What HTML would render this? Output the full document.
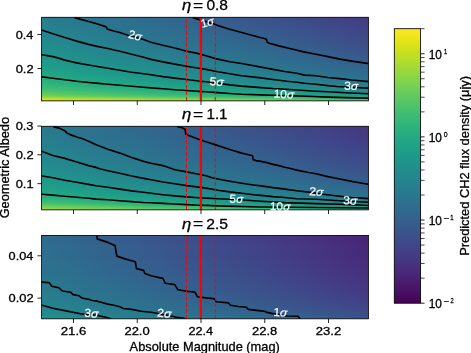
<!DOCTYPE html><html><head><meta charset="utf-8"><style>html,body{margin:0;padding:0;background:#fff;overflow:hidden}svg{display:block;will-change:transform}text{font-family:"Liberation Sans",sans-serif;stroke:#000;stroke-width:0.3px;} text[fill="#fff"]{stroke:#fff;stroke-width:0.2px}</style></head><body>
<svg width="471" height="353" viewBox="0 0 471 353">
<defs>
<linearGradient id="v" gradientUnits="userSpaceOnUse" x1="0" y1="0" x2="1315.25" y2="0"><stop offset="0.0000" stop-color="#fde725"/><stop offset="0.0156" stop-color="#f6e620"/><stop offset="0.0312" stop-color="#ece51b"/><stop offset="0.0469" stop-color="#e2e418"/><stop offset="0.0625" stop-color="#d8e219"/><stop offset="0.0781" stop-color="#cde11d"/><stop offset="0.0938" stop-color="#c2df23"/><stop offset="0.1094" stop-color="#b8de29"/><stop offset="0.1250" stop-color="#addc30"/><stop offset="0.1406" stop-color="#a2da37"/><stop offset="0.1562" stop-color="#98d83e"/><stop offset="0.1719" stop-color="#8ed645"/><stop offset="0.1875" stop-color="#84d44b"/><stop offset="0.2031" stop-color="#7ad151"/><stop offset="0.2188" stop-color="#70cf57"/><stop offset="0.2344" stop-color="#67cc5c"/><stop offset="0.2500" stop-color="#5ec962"/><stop offset="0.2656" stop-color="#56c667"/><stop offset="0.2812" stop-color="#4ec36b"/><stop offset="0.2969" stop-color="#46c06f"/><stop offset="0.3125" stop-color="#3fbc73"/><stop offset="0.3281" stop-color="#38b977"/><stop offset="0.3438" stop-color="#32b67a"/><stop offset="0.3594" stop-color="#2db27d"/><stop offset="0.3750" stop-color="#28ae80"/><stop offset="0.3906" stop-color="#25ab82"/><stop offset="0.4062" stop-color="#22a785"/><stop offset="0.4219" stop-color="#20a386"/><stop offset="0.4375" stop-color="#1fa088"/><stop offset="0.4531" stop-color="#1e9c89"/><stop offset="0.4688" stop-color="#1f988b"/><stop offset="0.4844" stop-color="#1f948c"/><stop offset="0.5000" stop-color="#21918c"/><stop offset="0.5156" stop-color="#228d8d"/><stop offset="0.5312" stop-color="#23898e"/><stop offset="0.5469" stop-color="#25858e"/><stop offset="0.5625" stop-color="#26828e"/><stop offset="0.5781" stop-color="#277e8e"/><stop offset="0.5938" stop-color="#297a8e"/><stop offset="0.6094" stop-color="#2a768e"/><stop offset="0.6250" stop-color="#2c728e"/><stop offset="0.6406" stop-color="#2e6f8e"/><stop offset="0.6562" stop-color="#2f6b8e"/><stop offset="0.6719" stop-color="#31678e"/><stop offset="0.6875" stop-color="#33638d"/><stop offset="0.7031" stop-color="#355f8d"/><stop offset="0.7188" stop-color="#375b8d"/><stop offset="0.7344" stop-color="#39568c"/><stop offset="0.7500" stop-color="#3b528b"/><stop offset="0.7656" stop-color="#3d4e8a"/><stop offset="0.7812" stop-color="#3e4989"/><stop offset="0.7969" stop-color="#404588"/><stop offset="0.8125" stop-color="#424086"/><stop offset="0.8281" stop-color="#443b84"/><stop offset="0.8438" stop-color="#453781"/><stop offset="0.8594" stop-color="#46327e"/><stop offset="0.8750" stop-color="#472d7b"/><stop offset="0.8906" stop-color="#482878"/><stop offset="0.9062" stop-color="#482374"/><stop offset="0.9219" stop-color="#481d6f"/><stop offset="0.9375" stop-color="#48186a"/><stop offset="0.9531" stop-color="#471365"/><stop offset="0.9688" stop-color="#470d60"/><stop offset="0.9844" stop-color="#46075a"/><stop offset="1.0000" stop-color="#440154"/></linearGradient>
<linearGradient id="cb" x1="0" y1="1" x2="0" y2="0"><stop offset="0.0000" stop-color="#440154"/><stop offset="0.0156" stop-color="#46075a"/><stop offset="0.0312" stop-color="#470d60"/><stop offset="0.0469" stop-color="#471365"/><stop offset="0.0625" stop-color="#48186a"/><stop offset="0.0781" stop-color="#481d6f"/><stop offset="0.0938" stop-color="#482374"/><stop offset="0.1094" stop-color="#482878"/><stop offset="0.1250" stop-color="#472d7b"/><stop offset="0.1406" stop-color="#46327e"/><stop offset="0.1562" stop-color="#453781"/><stop offset="0.1719" stop-color="#443b84"/><stop offset="0.1875" stop-color="#424086"/><stop offset="0.2031" stop-color="#404588"/><stop offset="0.2188" stop-color="#3e4989"/><stop offset="0.2344" stop-color="#3d4e8a"/><stop offset="0.2500" stop-color="#3b528b"/><stop offset="0.2656" stop-color="#39568c"/><stop offset="0.2812" stop-color="#375b8d"/><stop offset="0.2969" stop-color="#355f8d"/><stop offset="0.3125" stop-color="#33638d"/><stop offset="0.3281" stop-color="#31678e"/><stop offset="0.3438" stop-color="#2f6b8e"/><stop offset="0.3594" stop-color="#2e6f8e"/><stop offset="0.3750" stop-color="#2c728e"/><stop offset="0.3906" stop-color="#2a768e"/><stop offset="0.4062" stop-color="#297a8e"/><stop offset="0.4219" stop-color="#277e8e"/><stop offset="0.4375" stop-color="#26828e"/><stop offset="0.4531" stop-color="#25858e"/><stop offset="0.4688" stop-color="#23898e"/><stop offset="0.4844" stop-color="#228d8d"/><stop offset="0.5000" stop-color="#21918c"/><stop offset="0.5156" stop-color="#1f948c"/><stop offset="0.5312" stop-color="#1f988b"/><stop offset="0.5469" stop-color="#1e9c89"/><stop offset="0.5625" stop-color="#1fa088"/><stop offset="0.5781" stop-color="#20a386"/><stop offset="0.5938" stop-color="#22a785"/><stop offset="0.6094" stop-color="#25ab82"/><stop offset="0.6250" stop-color="#28ae80"/><stop offset="0.6406" stop-color="#2db27d"/><stop offset="0.6562" stop-color="#32b67a"/><stop offset="0.6719" stop-color="#38b977"/><stop offset="0.6875" stop-color="#3fbc73"/><stop offset="0.7031" stop-color="#46c06f"/><stop offset="0.7188" stop-color="#4ec36b"/><stop offset="0.7344" stop-color="#56c667"/><stop offset="0.7500" stop-color="#5ec962"/><stop offset="0.7656" stop-color="#67cc5c"/><stop offset="0.7812" stop-color="#70cf57"/><stop offset="0.7969" stop-color="#7ad151"/><stop offset="0.8125" stop-color="#84d44b"/><stop offset="0.8281" stop-color="#8ed645"/><stop offset="0.8438" stop-color="#98d83e"/><stop offset="0.8594" stop-color="#a2da37"/><stop offset="0.8750" stop-color="#addc30"/><stop offset="0.8906" stop-color="#b8de29"/><stop offset="0.9062" stop-color="#c2df23"/><stop offset="0.9219" stop-color="#cde11d"/><stop offset="0.9375" stop-color="#d8e219"/><stop offset="0.9531" stop-color="#e2e418"/><stop offset="0.9688" stop-color="#ece51b"/><stop offset="0.9844" stop-color="#f6e620"/><stop offset="1.0000" stop-color="#fde725"/></linearGradient>
<clipPath id="cp0"><rect x="41.60" y="17.30" width="326.80" height="83.55"/></clipPath>
<linearGradient id="g0" href="#v" gradientTransform="translate(-723.01 0)"/>
<linearGradient id="g1" href="#v" gradientTransform="translate(-720.13 0)"/>
<linearGradient id="g2" href="#v" gradientTransform="translate(-716.75 0)"/>
<linearGradient id="g3" href="#v" gradientTransform="translate(-713.24 0)"/>
<linearGradient id="g4" href="#v" gradientTransform="translate(-709.71 0)"/>
<linearGradient id="g5" href="#v" gradientTransform="translate(-706.24 0)"/>
<linearGradient id="g6" href="#v" gradientTransform="translate(-702.78 0)"/>
<linearGradient id="g7" href="#v" gradientTransform="translate(-699.83 0)"/>
<linearGradient id="g8" href="#v" gradientTransform="translate(-696.96 0)"/>
<linearGradient id="g9" href="#v" gradientTransform="translate(-693.81 0)"/>
<linearGradient id="g10" href="#v" gradientTransform="translate(-691.46 0)"/>
<linearGradient id="g11" href="#v" gradientTransform="translate(-689.59 0)"/>
<linearGradient id="g12" href="#v" gradientTransform="translate(-687.06 0)"/>
<linearGradient id="g13" href="#v" gradientTransform="translate(-683.55 0)"/>
<linearGradient id="g14" href="#v" gradientTransform="translate(-680.09 0)"/>
<linearGradient id="g15" href="#v" gradientTransform="translate(-676.56 0)"/>
<linearGradient id="g16" href="#v" gradientTransform="translate(-673.31 0)"/>
<linearGradient id="g17" href="#v" gradientTransform="translate(-670.05 0)"/>
<linearGradient id="g18" href="#v" gradientTransform="translate(-666.71 0)"/>
<linearGradient id="g19" href="#v" gradientTransform="translate(-663.19 0)"/>
<linearGradient id="g20" href="#v" gradientTransform="translate(-659.67 0)"/>
<linearGradient id="g21" href="#v" gradientTransform="translate(-655.85 0)"/>
<linearGradient id="g22" href="#v" gradientTransform="translate(-652.98 0)"/>
<linearGradient id="g23" href="#v" gradientTransform="translate(-650.91 0)"/>
<linearGradient id="g24" href="#v" gradientTransform="translate(-648.80 0)"/>
<linearGradient id="g25" href="#v" gradientTransform="translate(-646.41 0)"/>
<linearGradient id="g26" href="#v" gradientTransform="translate(-643.08 0)"/>
<linearGradient id="g27" href="#v" gradientTransform="translate(-639.30 0)"/>
<linearGradient id="g28" href="#v" gradientTransform="translate(-635.27 0)"/>
<linearGradient id="g29" href="#v" gradientTransform="translate(-630.96 0)"/>
<linearGradient id="g30" href="#v" gradientTransform="translate(-626.47 0)"/>
<linearGradient id="g31" href="#v" gradientTransform="translate(-622.09 0)"/>
<linearGradient id="g32" href="#v" gradientTransform="translate(-617.98 0)"/>
<linearGradient id="g33" href="#v" gradientTransform="translate(-613.86 0)"/>
<linearGradient id="g34" href="#v" gradientTransform="translate(-609.65 0)"/>
<linearGradient id="g35" href="#v" gradientTransform="translate(-605.00 0)"/>
<linearGradient id="g36" href="#v" gradientTransform="translate(-600.32 0)"/>
<linearGradient id="g37" href="#v" gradientTransform="translate(-596.64 0)"/>
<linearGradient id="g38" href="#v" gradientTransform="translate(-591.94 0)"/>
<linearGradient id="g39" href="#v" gradientTransform="translate(-587.39 0)"/>
<linearGradient id="g40" href="#v" gradientTransform="translate(-583.45 0)"/>
<linearGradient id="g41" href="#v" gradientTransform="translate(-579.75 0)"/>
<linearGradient id="g42" href="#v" gradientTransform="translate(-575.64 0)"/>
<linearGradient id="g43" href="#v" gradientTransform="translate(-570.90 0)"/>
<linearGradient id="g44" href="#v" gradientTransform="translate(-565.92 0)"/>
<linearGradient id="g45" href="#v" gradientTransform="translate(-560.30 0)"/>
<linearGradient id="g46" href="#v" gradientTransform="translate(-554.31 0)"/>
<linearGradient id="g47" href="#v" gradientTransform="translate(-550.67 0)"/>
<linearGradient id="g48" href="#v" gradientTransform="translate(-545.02 0)"/>
<linearGradient id="g49" href="#v" gradientTransform="translate(-539.29 0)"/>
<linearGradient id="g50" href="#v" gradientTransform="translate(-533.56 0)"/>
<linearGradient id="g51" href="#v" gradientTransform="translate(-527.87 0)"/>
<linearGradient id="g52" href="#v" gradientTransform="translate(-522.23 0)"/>
<linearGradient id="g53" href="#v" gradientTransform="translate(-516.76 0)"/>
<linearGradient id="g54" href="#v" gradientTransform="translate(-511.13 0)"/>
<linearGradient id="g55" href="#v" gradientTransform="translate(-504.83 0)"/>
<linearGradient id="g56" href="#v" gradientTransform="translate(-498.32 0)"/>
<linearGradient id="g57" href="#v" gradientTransform="translate(-492.33 0)"/>
<linearGradient id="g58" href="#v" gradientTransform="translate(-484.91 0)"/>
<linearGradient id="g59" href="#v" gradientTransform="translate(-476.68 0)"/>
<linearGradient id="g60" href="#v" gradientTransform="translate(-469.52 0)"/>
<linearGradient id="g61" href="#v" gradientTransform="translate(-460.86 0)"/>
<linearGradient id="g62" href="#v" gradientTransform="translate(-452.70 0)"/>
<linearGradient id="g63" href="#v" gradientTransform="translate(-444.33 0)"/>
<linearGradient id="g64" href="#v" gradientTransform="translate(-435.10 0)"/>
<linearGradient id="g65" href="#v" gradientTransform="translate(-428.19 0)"/>
<linearGradient id="g66" href="#v" gradientTransform="translate(-419.06 0)"/>
<linearGradient id="g67" href="#v" gradientTransform="translate(-409.49 0)"/>
<linearGradient id="g68" href="#v" gradientTransform="translate(-399.47 0)"/>
<linearGradient id="g69" href="#v" gradientTransform="translate(-388.56 0)"/>
<linearGradient id="g70" href="#v" gradientTransform="translate(-374.43 0)"/>
<linearGradient id="g71" href="#v" gradientTransform="translate(-362.43 0)"/>
<linearGradient id="g72" href="#v" gradientTransform="translate(-347.27 0)"/>
<linearGradient id="g73" href="#v" gradientTransform="translate(-332.70 0)"/>
<linearGradient id="g74" href="#v" gradientTransform="translate(-317.12 0)"/>
<linearGradient id="g75" href="#v" gradientTransform="translate(-299.30 0)"/>
<linearGradient id="g76" href="#v" gradientTransform="translate(-281.96 0)"/>
<linearGradient id="g77" href="#v" gradientTransform="translate(-268.41 0)"/>
<linearGradient id="g78" href="#v" gradientTransform="translate(-238.38 0)"/>
<linearGradient id="g79" href="#v" gradientTransform="translate(-208.30 0)"/>
<linearGradient id="g80" href="#v" gradientTransform="translate(-155.69 0)"/>
<linearGradient id="g81" href="#v" gradientTransform="translate(-89.93 0)"/>
<linearGradient id="g82" href="#v" gradientTransform="translate(-43.89 0)"/>
<linearGradient id="g83" href="#v" gradientTransform="translate(-11.01 0)"/>
<clipPath id="cp1"><rect x="41.60" y="126.30" width="326.80" height="83.55"/></clipPath>
<linearGradient id="g84" href="#v" gradientTransform="translate(-741.16 0)"/>
<linearGradient id="g85" href="#v" gradientTransform="translate(-738.02 0)"/>
<linearGradient id="g86" href="#v" gradientTransform="translate(-735.23 0)"/>
<linearGradient id="g87" href="#v" gradientTransform="translate(-733.35 0)"/>
<linearGradient id="g88" href="#v" gradientTransform="translate(-732.09 0)"/>
<linearGradient id="g89" href="#v" gradientTransform="translate(-731.40 0)"/>
<linearGradient id="g90" href="#v" gradientTransform="translate(-730.90 0)"/>
<linearGradient id="g91" href="#v" gradientTransform="translate(-730.02 0)"/>
<linearGradient id="g92" href="#v" gradientTransform="translate(-728.54 0)"/>
<linearGradient id="g93" href="#v" gradientTransform="translate(-726.25 0)"/>
<linearGradient id="g94" href="#v" gradientTransform="translate(-723.51 0)"/>
<linearGradient id="g95" href="#v" gradientTransform="translate(-720.64 0)"/>
<linearGradient id="g96" href="#v" gradientTransform="translate(-717.63 0)"/>
<linearGradient id="g97" href="#v" gradientTransform="translate(-714.91 0)"/>
<linearGradient id="g98" href="#v" gradientTransform="translate(-712.26 0)"/>
<linearGradient id="g99" href="#v" gradientTransform="translate(-709.66 0)"/>
<linearGradient id="g100" href="#v" gradientTransform="translate(-707.04 0)"/>
<linearGradient id="g101" href="#v" gradientTransform="translate(-704.35 0)"/>
<linearGradient id="g102" href="#v" gradientTransform="translate(-701.83 0)"/>
<linearGradient id="g103" href="#v" gradientTransform="translate(-699.10 0)"/>
<linearGradient id="g104" href="#v" gradientTransform="translate(-696.22 0)"/>
<linearGradient id="g105" href="#v" gradientTransform="translate(-693.35 0)"/>
<linearGradient id="g106" href="#v" gradientTransform="translate(-690.47 0)"/>
<linearGradient id="g107" href="#v" gradientTransform="translate(-687.54 0)"/>
<linearGradient id="g108" href="#v" gradientTransform="translate(-684.36 0)"/>
<linearGradient id="g109" href="#v" gradientTransform="translate(-682.29 0)"/>
<linearGradient id="g110" href="#v" gradientTransform="translate(-679.28 0)"/>
<linearGradient id="g111" href="#v" gradientTransform="translate(-676.20 0)"/>
<linearGradient id="g112" href="#v" gradientTransform="translate(-673.00 0)"/>
<linearGradient id="g113" href="#v" gradientTransform="translate(-669.80 0)"/>
<linearGradient id="g114" href="#v" gradientTransform="translate(-667.25 0)"/>
<linearGradient id="g115" href="#v" gradientTransform="translate(-664.92 0)"/>
<linearGradient id="g116" href="#v" gradientTransform="translate(-662.50 0)"/>
<linearGradient id="g117" href="#v" gradientTransform="translate(-660.33 0)"/>
<linearGradient id="g118" href="#v" gradientTransform="translate(-657.36 0)"/>
<linearGradient id="g119" href="#v" gradientTransform="translate(-653.28 0)"/>
<linearGradient id="g120" href="#v" gradientTransform="translate(-649.14 0)"/>
<linearGradient id="g121" href="#v" gradientTransform="translate(-645.44 0)"/>
<linearGradient id="g122" href="#v" gradientTransform="translate(-641.53 0)"/>
<linearGradient id="g123" href="#v" gradientTransform="translate(-637.11 0)"/>
<linearGradient id="g124" href="#v" gradientTransform="translate(-633.43 0)"/>
<linearGradient id="g125" href="#v" gradientTransform="translate(-629.79 0)"/>
<linearGradient id="g126" href="#v" gradientTransform="translate(-626.42 0)"/>
<linearGradient id="g127" href="#v" gradientTransform="translate(-622.93 0)"/>
<linearGradient id="g128" href="#v" gradientTransform="translate(-618.51 0)"/>
<linearGradient id="g129" href="#v" gradientTransform="translate(-613.56 0)"/>
<linearGradient id="g130" href="#v" gradientTransform="translate(-608.66 0)"/>
<linearGradient id="g131" href="#v" gradientTransform="translate(-603.44 0)"/>
<linearGradient id="g132" href="#v" gradientTransform="translate(-598.79 0)"/>
<linearGradient id="g133" href="#v" gradientTransform="translate(-594.19 0)"/>
<linearGradient id="g134" href="#v" gradientTransform="translate(-590.90 0)"/>
<linearGradient id="g135" href="#v" gradientTransform="translate(-586.24 0)"/>
<linearGradient id="g136" href="#v" gradientTransform="translate(-581.37 0)"/>
<linearGradient id="g137" href="#v" gradientTransform="translate(-576.27 0)"/>
<linearGradient id="g138" href="#v" gradientTransform="translate(-571.05 0)"/>
<linearGradient id="g139" href="#v" gradientTransform="translate(-565.63 0)"/>
<linearGradient id="g140" href="#v" gradientTransform="translate(-559.80 0)"/>
<linearGradient id="g141" href="#v" gradientTransform="translate(-553.78 0)"/>
<linearGradient id="g142" href="#v" gradientTransform="translate(-547.58 0)"/>
<linearGradient id="g143" href="#v" gradientTransform="translate(-541.10 0)"/>
<linearGradient id="g144" href="#v" gradientTransform="translate(-533.64 0)"/>
<linearGradient id="g145" href="#v" gradientTransform="translate(-526.31 0)"/>
<linearGradient id="g146" href="#v" gradientTransform="translate(-519.29 0)"/>
<linearGradient id="g147" href="#v" gradientTransform="translate(-512.71 0)"/>
<linearGradient id="g148" href="#v" gradientTransform="translate(-506.08 0)"/>
<linearGradient id="g149" href="#v" gradientTransform="translate(-498.26 0)"/>
<linearGradient id="g150" href="#v" gradientTransform="translate(-490.23 0)"/>
<linearGradient id="g151" href="#v" gradientTransform="translate(-482.66 0)"/>
<linearGradient id="g152" href="#v" gradientTransform="translate(-474.39 0)"/>
<linearGradient id="g153" href="#v" gradientTransform="translate(-464.37 0)"/>
<linearGradient id="g154" href="#v" gradientTransform="translate(-454.30 0)"/>
<linearGradient id="g155" href="#v" gradientTransform="translate(-442.30 0)"/>
<linearGradient id="g156" href="#v" gradientTransform="translate(-428.66 0)"/>
<linearGradient id="g157" href="#v" gradientTransform="translate(-409.10 0)"/>
<linearGradient id="g158" href="#v" gradientTransform="translate(-393.23 0)"/>
<linearGradient id="g159" href="#v" gradientTransform="translate(-377.50 0)"/>
<linearGradient id="g160" href="#v" gradientTransform="translate(-365.00 0)"/>
<linearGradient id="g161" href="#v" gradientTransform="translate(-339.47 0)"/>
<linearGradient id="g162" href="#v" gradientTransform="translate(-313.78 0)"/>
<linearGradient id="g163" href="#v" gradientTransform="translate(-289.41 0)"/>
<linearGradient id="g164" href="#v" gradientTransform="translate(-241.18 0)"/>
<linearGradient id="g165" href="#v" gradientTransform="translate(-214.87 0)"/>
<linearGradient id="g166" href="#v" gradientTransform="translate(-181.99 0)"/>
<linearGradient id="g167" href="#v" gradientTransform="translate(-155.69 0)"/>
<clipPath id="cp2"><rect x="41.60" y="235.50" width="326.80" height="83.30"/></clipPath>
<linearGradient id="g168" href="#v" gradientTransform="translate(-820.44 0)"/>
<linearGradient id="g169" href="#v" gradientTransform="translate(-819.78 0)"/>
<linearGradient id="g170" href="#v" gradientTransform="translate(-819.71 0)"/>
<linearGradient id="g171" href="#v" gradientTransform="translate(-819.64 0)"/>
<linearGradient id="g172" href="#v" gradientTransform="translate(-817.78 0)"/>
<linearGradient id="g173" href="#v" gradientTransform="translate(-814.73 0)"/>
<linearGradient id="g174" href="#v" gradientTransform="translate(-811.67 0)"/>
<linearGradient id="g175" href="#v" gradientTransform="translate(-808.68 0)"/>
<linearGradient id="g176" href="#v" gradientTransform="translate(-806.31 0)"/>
<linearGradient id="g177" href="#v" gradientTransform="translate(-803.95 0)"/>
<linearGradient id="g178" href="#v" gradientTransform="translate(-801.80 0)"/>
<linearGradient id="g179" href="#v" gradientTransform="translate(-801.63 0)"/>
<linearGradient id="g180" href="#v" gradientTransform="translate(-801.46 0)"/>
<linearGradient id="g181" href="#v" gradientTransform="translate(-801.30 0)"/>
<linearGradient id="g182" href="#v" gradientTransform="translate(-801.13 0)"/>
<linearGradient id="g183" href="#v" gradientTransform="translate(-800.96 0)"/>
<linearGradient id="g184" href="#v" gradientTransform="translate(-800.79 0)"/>
<linearGradient id="g185" href="#v" gradientTransform="translate(-800.62 0)"/>
<linearGradient id="g186" href="#v" gradientTransform="translate(-800.45 0)"/>
<linearGradient id="g187" href="#v" gradientTransform="translate(-800.29 0)"/>
<linearGradient id="g188" href="#v" gradientTransform="translate(-800.12 0)"/>
<linearGradient id="g189" href="#v" gradientTransform="translate(-798.82 0)"/>
<linearGradient id="g190" href="#v" gradientTransform="translate(-795.82 0)"/>
<linearGradient id="g191" href="#v" gradientTransform="translate(-792.82 0)"/>
<linearGradient id="g192" href="#v" gradientTransform="translate(-789.56 0)"/>
<linearGradient id="g193" href="#v" gradientTransform="translate(-785.90 0)"/>
<linearGradient id="g194" href="#v" gradientTransform="translate(-782.25 0)"/>
<linearGradient id="g195" href="#v" gradientTransform="translate(-781.38 0)"/>
<linearGradient id="g196" href="#v" gradientTransform="translate(-781.20 0)"/>
<linearGradient id="g197" href="#v" gradientTransform="translate(-781.03 0)"/>
<linearGradient id="g198" href="#v" gradientTransform="translate(-780.86 0)"/>
<linearGradient id="g199" href="#v" gradientTransform="translate(-780.68 0)"/>
<linearGradient id="g200" href="#v" gradientTransform="translate(-780.51 0)"/>
<linearGradient id="g201" href="#v" gradientTransform="translate(-780.33 0)"/>
<linearGradient id="g202" href="#v" gradientTransform="translate(-776.77 0)"/>
<linearGradient id="g203" href="#v" gradientTransform="translate(-773.18 0)"/>
<linearGradient id="g204" href="#v" gradientTransform="translate(-772.78 0)"/>
<linearGradient id="g205" href="#v" gradientTransform="translate(-772.38 0)"/>
<linearGradient id="g206" href="#v" gradientTransform="translate(-771.76 0)"/>
<linearGradient id="g207" href="#v" gradientTransform="translate(-769.17 0)"/>
<linearGradient id="g208" href="#v" gradientTransform="translate(-766.59 0)"/>
<linearGradient id="g209" href="#v" gradientTransform="translate(-762.61 0)"/>
<linearGradient id="g210" href="#v" gradientTransform="translate(-758.04 0)"/>
<linearGradient id="g211" href="#v" gradientTransform="translate(-753.87 0)"/>
<linearGradient id="g212" href="#v" gradientTransform="translate(-753.38 0)"/>
<linearGradient id="g213" href="#v" gradientTransform="translate(-752.89 0)"/>
<linearGradient id="g214" href="#v" gradientTransform="translate(-752.40 0)"/>
<linearGradient id="g215" href="#v" gradientTransform="translate(-750.93 0)"/>
<linearGradient id="g216" href="#v" gradientTransform="translate(-748.54 0)"/>
<linearGradient id="g217" href="#v" gradientTransform="translate(-744.54 0)"/>
<linearGradient id="g218" href="#v" gradientTransform="translate(-743.57 0)"/>
<linearGradient id="g219" href="#v" gradientTransform="translate(-742.36 0)"/>
<linearGradient id="g220" href="#v" gradientTransform="translate(-739.82 0)"/>
<linearGradient id="g221" href="#v" gradientTransform="translate(-738.47 0)"/>
<linearGradient id="g222" href="#v" gradientTransform="translate(-737.62 0)"/>
<linearGradient id="g223" href="#v" gradientTransform="translate(-734.79 0)"/>
<linearGradient id="g224" href="#v" gradientTransform="translate(-729.51 0)"/>
<linearGradient id="g225" href="#v" gradientTransform="translate(-723.70 0)"/>
<linearGradient id="g226" href="#v" gradientTransform="translate(-722.97 0)"/>
<linearGradient id="g227" href="#v" gradientTransform="translate(-722.23 0)"/>
<linearGradient id="g228" href="#v" gradientTransform="translate(-719.68 0)"/>
<linearGradient id="g229" href="#v" gradientTransform="translate(-718.22 0)"/>
<linearGradient id="g230" href="#v" gradientTransform="translate(-714.75 0)"/>
<linearGradient id="g231" href="#v" gradientTransform="translate(-708.60 0)"/>
<linearGradient id="g232" href="#v" gradientTransform="translate(-704.86 0)"/>
<linearGradient id="g233" href="#v" gradientTransform="translate(-703.06 0)"/>
<linearGradient id="g234" href="#v" gradientTransform="translate(-699.73 0)"/>
<linearGradient id="g235" href="#v" gradientTransform="translate(-693.63 0)"/>
<linearGradient id="g236" href="#v" gradientTransform="translate(-689.48 0)"/>
<linearGradient id="g237" href="#v" gradientTransform="translate(-687.00 0)"/>
<linearGradient id="g238" href="#v" gradientTransform="translate(-683.71 0)"/>
<linearGradient id="g239" href="#v" gradientTransform="translate(-679.07 0)"/>
<linearGradient id="g240" href="#v" gradientTransform="translate(-674.13 0)"/>
<linearGradient id="g241" href="#v" gradientTransform="translate(-671.85 0)"/>
<linearGradient id="g242" href="#v" gradientTransform="translate(-666.64 0)"/>
<linearGradient id="g243" href="#v" gradientTransform="translate(-660.33 0)"/>
<linearGradient id="g244" href="#v" gradientTransform="translate(-654.02 0)"/>
<linearGradient id="g245" href="#v" gradientTransform="translate(-648.84 0)"/>
<linearGradient id="g246" href="#v" gradientTransform="translate(-643.57 0)"/>
<linearGradient id="g247" href="#v" gradientTransform="translate(-638.37 0)"/>
<linearGradient id="g248" href="#v" gradientTransform="translate(-630.17 0)"/>
<linearGradient id="g249" href="#v" gradientTransform="translate(-622.21 0)"/>
<linearGradient id="g250" href="#v" gradientTransform="translate(-619.18 0)"/>
<linearGradient id="g251" href="#v" gradientTransform="translate(-615.63 0)"/>
</defs>
<g clip-path="url(#cp0)">
<rect x="41.6" y="17.0" width="326.8" height="1.05" fill="url(#g0)"/>
<rect x="41.6" y="18.0" width="326.8" height="1.05" fill="url(#g1)"/>
<rect x="41.6" y="19.0" width="326.8" height="1.05" fill="url(#g2)"/>
<rect x="41.6" y="20.0" width="326.8" height="1.05" fill="url(#g3)"/>
<rect x="41.6" y="21.0" width="326.8" height="1.05" fill="url(#g4)"/>
<rect x="41.6" y="22.0" width="326.8" height="1.05" fill="url(#g5)"/>
<rect x="41.6" y="23.0" width="326.8" height="1.05" fill="url(#g6)"/>
<rect x="41.6" y="24.0" width="326.8" height="1.05" fill="url(#g7)"/>
<rect x="41.6" y="25.0" width="326.8" height="1.05" fill="url(#g8)"/>
<rect x="41.6" y="26.0" width="326.8" height="1.05" fill="url(#g9)"/>
<rect x="41.6" y="27.0" width="326.8" height="1.05" fill="url(#g10)"/>
<rect x="41.6" y="28.0" width="326.8" height="1.05" fill="url(#g11)"/>
<rect x="41.6" y="29.0" width="326.8" height="1.05" fill="url(#g12)"/>
<rect x="41.6" y="30.0" width="326.8" height="1.05" fill="url(#g13)"/>
<rect x="41.6" y="31.0" width="326.8" height="1.05" fill="url(#g14)"/>
<rect x="41.6" y="32.0" width="326.8" height="1.05" fill="url(#g15)"/>
<rect x="41.6" y="33.0" width="326.8" height="1.05" fill="url(#g16)"/>
<rect x="41.6" y="34.0" width="326.8" height="1.05" fill="url(#g17)"/>
<rect x="41.6" y="35.0" width="326.8" height="1.05" fill="url(#g18)"/>
<rect x="41.6" y="36.0" width="326.8" height="1.05" fill="url(#g19)"/>
<rect x="41.6" y="37.0" width="326.8" height="1.05" fill="url(#g20)"/>
<rect x="41.6" y="38.0" width="326.8" height="1.05" fill="url(#g21)"/>
<rect x="41.6" y="39.0" width="326.8" height="1.05" fill="url(#g22)"/>
<rect x="41.6" y="40.0" width="326.8" height="1.05" fill="url(#g23)"/>
<rect x="41.6" y="41.0" width="326.8" height="1.05" fill="url(#g24)"/>
<rect x="41.6" y="42.0" width="326.8" height="1.05" fill="url(#g25)"/>
<rect x="41.6" y="43.0" width="326.8" height="1.05" fill="url(#g26)"/>
<rect x="41.6" y="44.0" width="326.8" height="1.05" fill="url(#g27)"/>
<rect x="41.6" y="45.0" width="326.8" height="1.05" fill="url(#g28)"/>
<rect x="41.6" y="46.0" width="326.8" height="1.05" fill="url(#g29)"/>
<rect x="41.6" y="47.0" width="326.8" height="1.05" fill="url(#g30)"/>
<rect x="41.6" y="48.0" width="326.8" height="1.05" fill="url(#g31)"/>
<rect x="41.6" y="49.0" width="326.8" height="1.05" fill="url(#g32)"/>
<rect x="41.6" y="50.0" width="326.8" height="1.05" fill="url(#g33)"/>
<rect x="41.6" y="51.0" width="326.8" height="1.05" fill="url(#g34)"/>
<rect x="41.6" y="52.0" width="326.8" height="1.05" fill="url(#g35)"/>
<rect x="41.6" y="53.0" width="326.8" height="1.05" fill="url(#g36)"/>
<rect x="41.6" y="54.0" width="326.8" height="1.05" fill="url(#g37)"/>
<rect x="41.6" y="55.0" width="326.8" height="1.05" fill="url(#g38)"/>
<rect x="41.6" y="56.0" width="326.8" height="1.05" fill="url(#g39)"/>
<rect x="41.6" y="57.0" width="326.8" height="1.05" fill="url(#g40)"/>
<rect x="41.6" y="58.0" width="326.8" height="1.05" fill="url(#g41)"/>
<rect x="41.6" y="59.0" width="326.8" height="1.05" fill="url(#g42)"/>
<rect x="41.6" y="60.0" width="326.8" height="1.05" fill="url(#g43)"/>
<rect x="41.6" y="61.0" width="326.8" height="1.05" fill="url(#g44)"/>
<rect x="41.6" y="62.0" width="326.8" height="1.05" fill="url(#g45)"/>
<rect x="41.6" y="63.0" width="326.8" height="1.05" fill="url(#g46)"/>
<rect x="41.6" y="64.0" width="326.8" height="1.05" fill="url(#g47)"/>
<rect x="41.6" y="65.0" width="326.8" height="1.05" fill="url(#g48)"/>
<rect x="41.6" y="66.0" width="326.8" height="1.05" fill="url(#g49)"/>
<rect x="41.6" y="67.0" width="326.8" height="1.05" fill="url(#g50)"/>
<rect x="41.6" y="68.0" width="326.8" height="1.05" fill="url(#g51)"/>
<rect x="41.6" y="69.0" width="326.8" height="1.05" fill="url(#g52)"/>
<rect x="41.6" y="70.0" width="326.8" height="1.05" fill="url(#g53)"/>
<rect x="41.6" y="71.0" width="326.8" height="1.05" fill="url(#g54)"/>
<rect x="41.6" y="72.0" width="326.8" height="1.05" fill="url(#g55)"/>
<rect x="41.6" y="73.0" width="326.8" height="1.05" fill="url(#g56)"/>
<rect x="41.6" y="74.0" width="326.8" height="1.05" fill="url(#g57)"/>
<rect x="41.6" y="75.0" width="326.8" height="1.05" fill="url(#g58)"/>
<rect x="41.6" y="76.0" width="326.8" height="1.05" fill="url(#g59)"/>
<rect x="41.6" y="77.0" width="326.8" height="1.05" fill="url(#g60)"/>
<rect x="41.6" y="78.0" width="326.8" height="1.05" fill="url(#g61)"/>
<rect x="41.6" y="79.0" width="326.8" height="1.05" fill="url(#g62)"/>
<rect x="41.6" y="80.0" width="326.8" height="1.05" fill="url(#g63)"/>
<rect x="41.6" y="81.0" width="326.8" height="1.05" fill="url(#g64)"/>
<rect x="41.6" y="82.0" width="326.8" height="1.05" fill="url(#g65)"/>
<rect x="41.6" y="83.0" width="326.8" height="1.05" fill="url(#g66)"/>
<rect x="41.6" y="84.0" width="326.8" height="1.05" fill="url(#g67)"/>
<rect x="41.6" y="85.0" width="326.8" height="1.05" fill="url(#g68)"/>
<rect x="41.6" y="86.0" width="326.8" height="1.05" fill="url(#g69)"/>
<rect x="41.6" y="87.0" width="326.8" height="1.05" fill="url(#g70)"/>
<rect x="41.6" y="88.0" width="326.8" height="1.05" fill="url(#g71)"/>
<rect x="41.6" y="89.0" width="326.8" height="1.05" fill="url(#g72)"/>
<rect x="41.6" y="90.0" width="326.8" height="1.05" fill="url(#g73)"/>
<rect x="41.6" y="91.0" width="326.8" height="1.05" fill="url(#g74)"/>
<rect x="41.6" y="92.0" width="326.8" height="1.05" fill="url(#g75)"/>
<rect x="41.6" y="93.0" width="326.8" height="1.05" fill="url(#g76)"/>
<rect x="41.6" y="94.0" width="326.8" height="1.05" fill="url(#g77)"/>
<rect x="41.6" y="95.0" width="326.8" height="1.05" fill="url(#g78)"/>
<rect x="41.6" y="96.0" width="326.8" height="1.05" fill="url(#g79)"/>
<rect x="41.6" y="97.0" width="326.8" height="1.05" fill="url(#g80)"/>
<rect x="41.6" y="98.0" width="326.8" height="1.05" fill="url(#g81)"/>
<rect x="41.6" y="99.0" width="326.8" height="1.05" fill="url(#g82)"/>
<rect x="41.6" y="100.0" width="326.8" height="1.05" fill="url(#g83)"/>
<polyline fill="none" stroke="#000" stroke-width="1.65" stroke-linejoin="round" points="192.5,17.3 193.9,17.9 198.6,19.4 206.0,21.6 213.1,23.8 217.9,25.6 229.8,29.2 241.7,32.5 253.6,35.8 261.0,37.8 264.6,38.5 266.4,39.3 267.2,42.3 269.3,43.3 278.9,45.9 290.8,48.8 302.7,51.6 316.0,54.2 327.9,56.6 339.8,59.1 351.7,61.1 369.5,63.7"/>
<polyline fill="none" stroke="#000" stroke-width="1.65" stroke-linejoin="round" points="74.3,17.3 75.5,17.9 82.7,19.9 88.6,21.5 96.0,23.5 105.5,26.6 106.5,27.3 107.3,29.1 113.9,31.0 119.8,32.5 128.1,35.2 136.0,37.3 143.6,39.5 151.0,42.3 162.9,45.3 174.8,48.0 186.7,51.2 198.6,53.6 206.0,55.7 215.5,58.6 229.8,61.7 241.7,63.5 261.0,67.1 272.9,69.4 284.8,71.5 296.7,73.3 304.6,75.1 316.0,75.8 327.9,77.5 339.8,78.6 351.7,80.0 369.5,81.6"/>
<polyline fill="none" stroke="#000" stroke-width="1.65" stroke-linejoin="round" points="40.0,29.6 42.2,30.2 52.9,33.7 64.8,37.5 76.7,41.1 88.6,44.4 96.0,46.1 107.9,48.5 119.8,51.2 131.7,54.2 143.6,57.2 151.0,59.4 162.9,61.9 174.8,64.1 186.7,66.2 198.6,68.2 206.0,69.4 217.9,71.8 229.8,73.8 241.7,75.7 261.0,77.9 272.9,79.5 287.0,81.3 296.7,82.3 304.6,83.3 316.0,84.3 328.0,85.6 336.8,86.5 350.0,87.3 369.5,88.2"/>
<polyline fill="none" stroke="#000" stroke-width="1.65" stroke-linejoin="round" points="40.0,54.5 42.2,54.8 52.9,56.6 57.7,57.9 64.8,60.1 76.7,62.9 88.6,65.0 96.0,66.2 107.9,68.2 119.8,70.3 131.7,72.2 143.6,73.8 151.0,74.8 162.9,76.6 174.8,78.1 186.7,79.5 198.6,81.0 206.0,81.7 217.9,83.3 229.8,84.9 241.7,86.1 261.0,87.6 272.9,88.5 286.0,89.2 296.7,90.0 304.6,90.5 316.0,91.2 328.0,91.8 345.6,92.7 369.5,93.8"/>
<polyline fill="none" stroke="#000" stroke-width="1.65" stroke-linejoin="round" points="40.0,76.6 42.2,76.9 52.9,78.3 64.8,79.8 76.7,81.3 88.6,82.5 96.0,83.1 107.9,84.3 119.8,85.3 131.7,86.3 143.6,87.3 151.0,87.9 162.9,88.8 174.8,89.7 186.7,90.5 198.6,91.4 206.0,91.8 217.9,92.6 229.8,93.5 241.7,94.2 261.0,94.9 280.0,95.5 296.2,95.9 313.3,96.5 328.0,97.1 345.6,97.6 369.5,98.1"/>
<line x1="186.5" y1="100.8" x2="186.5" y2="17.3" stroke="#f00" stroke-width="1.05" stroke-dasharray="3.8 2.2"/>
<line x1="215.3" y1="100.8" x2="215.3" y2="17.3" stroke="#f00" stroke-width="1.05" stroke-dasharray="3.8 2.2"/>
<line x1="200.9" y1="100.8" x2="200.9" y2="17.3" stroke="#f00" stroke-width="2.3"/>
</g>
<g clip-path="url(#cp1)">
<rect x="41.6" y="126.0" width="326.8" height="1.05" fill="url(#g84)"/>
<rect x="41.6" y="127.0" width="326.8" height="1.05" fill="url(#g85)"/>
<rect x="41.6" y="128.0" width="326.8" height="1.05" fill="url(#g86)"/>
<rect x="41.6" y="129.0" width="326.8" height="1.05" fill="url(#g87)"/>
<rect x="41.6" y="130.0" width="326.8" height="1.05" fill="url(#g88)"/>
<rect x="41.6" y="131.0" width="326.8" height="1.05" fill="url(#g89)"/>
<rect x="41.6" y="132.0" width="326.8" height="1.05" fill="url(#g90)"/>
<rect x="41.6" y="133.0" width="326.8" height="1.05" fill="url(#g91)"/>
<rect x="41.6" y="134.0" width="326.8" height="1.05" fill="url(#g92)"/>
<rect x="41.6" y="135.0" width="326.8" height="1.05" fill="url(#g93)"/>
<rect x="41.6" y="136.0" width="326.8" height="1.05" fill="url(#g94)"/>
<rect x="41.6" y="137.0" width="326.8" height="1.05" fill="url(#g95)"/>
<rect x="41.6" y="138.0" width="326.8" height="1.05" fill="url(#g96)"/>
<rect x="41.6" y="139.0" width="326.8" height="1.05" fill="url(#g97)"/>
<rect x="41.6" y="140.0" width="326.8" height="1.05" fill="url(#g98)"/>
<rect x="41.6" y="141.0" width="326.8" height="1.05" fill="url(#g99)"/>
<rect x="41.6" y="142.0" width="326.8" height="1.05" fill="url(#g100)"/>
<rect x="41.6" y="143.0" width="326.8" height="1.05" fill="url(#g101)"/>
<rect x="41.6" y="144.0" width="326.8" height="1.05" fill="url(#g102)"/>
<rect x="41.6" y="145.0" width="326.8" height="1.05" fill="url(#g103)"/>
<rect x="41.6" y="146.0" width="326.8" height="1.05" fill="url(#g104)"/>
<rect x="41.6" y="147.0" width="326.8" height="1.05" fill="url(#g105)"/>
<rect x="41.6" y="148.0" width="326.8" height="1.05" fill="url(#g106)"/>
<rect x="41.6" y="149.0" width="326.8" height="1.05" fill="url(#g107)"/>
<rect x="41.6" y="150.0" width="326.8" height="1.05" fill="url(#g108)"/>
<rect x="41.6" y="151.0" width="326.8" height="1.05" fill="url(#g109)"/>
<rect x="41.6" y="152.0" width="326.8" height="1.05" fill="url(#g110)"/>
<rect x="41.6" y="153.0" width="326.8" height="1.05" fill="url(#g111)"/>
<rect x="41.6" y="154.0" width="326.8" height="1.05" fill="url(#g112)"/>
<rect x="41.6" y="155.0" width="326.8" height="1.05" fill="url(#g113)"/>
<rect x="41.6" y="156.0" width="326.8" height="1.05" fill="url(#g114)"/>
<rect x="41.6" y="157.0" width="326.8" height="1.05" fill="url(#g115)"/>
<rect x="41.6" y="158.0" width="326.8" height="1.05" fill="url(#g116)"/>
<rect x="41.6" y="159.0" width="326.8" height="1.05" fill="url(#g117)"/>
<rect x="41.6" y="160.0" width="326.8" height="1.05" fill="url(#g118)"/>
<rect x="41.6" y="161.0" width="326.8" height="1.05" fill="url(#g119)"/>
<rect x="41.6" y="162.0" width="326.8" height="1.05" fill="url(#g120)"/>
<rect x="41.6" y="163.0" width="326.8" height="1.05" fill="url(#g121)"/>
<rect x="41.6" y="164.0" width="326.8" height="1.05" fill="url(#g122)"/>
<rect x="41.6" y="165.0" width="326.8" height="1.05" fill="url(#g123)"/>
<rect x="41.6" y="166.0" width="326.8" height="1.05" fill="url(#g124)"/>
<rect x="41.6" y="167.0" width="326.8" height="1.05" fill="url(#g125)"/>
<rect x="41.6" y="168.0" width="326.8" height="1.05" fill="url(#g126)"/>
<rect x="41.6" y="169.0" width="326.8" height="1.05" fill="url(#g127)"/>
<rect x="41.6" y="170.0" width="326.8" height="1.05" fill="url(#g128)"/>
<rect x="41.6" y="171.0" width="326.8" height="1.05" fill="url(#g129)"/>
<rect x="41.6" y="172.0" width="326.8" height="1.05" fill="url(#g130)"/>
<rect x="41.6" y="173.0" width="326.8" height="1.05" fill="url(#g131)"/>
<rect x="41.6" y="174.0" width="326.8" height="1.05" fill="url(#g132)"/>
<rect x="41.6" y="175.0" width="326.8" height="1.05" fill="url(#g133)"/>
<rect x="41.6" y="176.0" width="326.8" height="1.05" fill="url(#g134)"/>
<rect x="41.6" y="177.0" width="326.8" height="1.05" fill="url(#g135)"/>
<rect x="41.6" y="178.0" width="326.8" height="1.05" fill="url(#g136)"/>
<rect x="41.6" y="179.0" width="326.8" height="1.05" fill="url(#g137)"/>
<rect x="41.6" y="180.0" width="326.8" height="1.05" fill="url(#g138)"/>
<rect x="41.6" y="181.0" width="326.8" height="1.05" fill="url(#g139)"/>
<rect x="41.6" y="182.0" width="326.8" height="1.05" fill="url(#g140)"/>
<rect x="41.6" y="183.0" width="326.8" height="1.05" fill="url(#g141)"/>
<rect x="41.6" y="184.0" width="326.8" height="1.05" fill="url(#g142)"/>
<rect x="41.6" y="185.0" width="326.8" height="1.05" fill="url(#g143)"/>
<rect x="41.6" y="186.0" width="326.8" height="1.05" fill="url(#g144)"/>
<rect x="41.6" y="187.0" width="326.8" height="1.05" fill="url(#g145)"/>
<rect x="41.6" y="188.0" width="326.8" height="1.05" fill="url(#g146)"/>
<rect x="41.6" y="189.0" width="326.8" height="1.05" fill="url(#g147)"/>
<rect x="41.6" y="190.0" width="326.8" height="1.05" fill="url(#g148)"/>
<rect x="41.6" y="191.0" width="326.8" height="1.05" fill="url(#g149)"/>
<rect x="41.6" y="192.0" width="326.8" height="1.05" fill="url(#g150)"/>
<rect x="41.6" y="193.0" width="326.8" height="1.05" fill="url(#g151)"/>
<rect x="41.6" y="194.0" width="326.8" height="1.05" fill="url(#g152)"/>
<rect x="41.6" y="195.0" width="326.8" height="1.05" fill="url(#g153)"/>
<rect x="41.6" y="196.0" width="326.8" height="1.05" fill="url(#g154)"/>
<rect x="41.6" y="197.0" width="326.8" height="1.05" fill="url(#g155)"/>
<rect x="41.6" y="198.0" width="326.8" height="1.05" fill="url(#g156)"/>
<rect x="41.6" y="199.0" width="326.8" height="1.05" fill="url(#g157)"/>
<rect x="41.6" y="200.0" width="326.8" height="1.05" fill="url(#g158)"/>
<rect x="41.6" y="201.0" width="326.8" height="1.05" fill="url(#g159)"/>
<rect x="41.6" y="202.0" width="326.8" height="1.05" fill="url(#g160)"/>
<rect x="41.6" y="203.0" width="326.8" height="1.05" fill="url(#g161)"/>
<rect x="41.6" y="204.0" width="326.8" height="1.05" fill="url(#g162)"/>
<rect x="41.6" y="205.0" width="326.8" height="1.05" fill="url(#g163)"/>
<rect x="41.6" y="206.0" width="326.8" height="1.05" fill="url(#g164)"/>
<rect x="41.6" y="207.0" width="326.8" height="1.05" fill="url(#g165)"/>
<rect x="41.6" y="208.0" width="326.8" height="1.05" fill="url(#g166)"/>
<rect x="41.6" y="209.0" width="326.8" height="1.05" fill="url(#g167)"/>
<polyline fill="none" stroke="#000" stroke-width="1.65" stroke-linejoin="round" points="177.4,126.3 177.8,126.7 182.0,127.7 184.9,129.3 185.3,129.9 185.7,134.0 187.9,135.2 192.7,137.0 198.6,139.2 206.0,141.8 212.0,143.6 217.9,145.6 229.8,149.5 241.7,153.1 251.8,155.5 252.6,156.1 253.2,159.6 256.0,160.6 261.0,161.4 267.0,162.6 272.9,164.4 278.9,165.6 284.8,167.2 289.6,168.2 296.7,170.1 308.6,172.5 316.0,173.7 327.9,176.6 339.8,179.0 351.7,181.4 363.6,183.5 369.5,184.5"/>
<polyline fill="none" stroke="#000" stroke-width="1.65" stroke-linejoin="round" points="53.6,126.3 54.1,126.9 58.9,128.1 64.8,130.8 66.6,132.8 70.8,134.9 76.7,137.0 82.7,138.8 88.6,141.2 96.0,144.8 107.9,149.2 119.8,153.1 131.7,157.5 143.6,161.4 151.0,163.2 162.9,165.6 166.5,166.8 174.8,169.7 186.7,171.9 198.6,174.3 206.0,175.7 212.0,177.8 217.9,179.0 229.8,181.2 241.7,183.2 253.6,185.0 261.0,185.9 272.9,187.6 284.8,189.1 296.7,190.7 308.6,192.1 323.1,194.3 339.8,196.3 351.7,197.5 369.5,198.7"/>
<polyline fill="none" stroke="#000" stroke-width="1.65" stroke-linejoin="round" points="40.0,151.1 42.2,151.5 52.9,155.5 64.8,158.4 76.7,162.0 88.6,165.6 96.0,167.4 99.6,168.7 107.9,170.7 119.8,173.3 131.7,176.0 143.6,178.4 151.0,179.8 162.9,182.0 174.8,183.8 186.7,185.6 198.6,187.1 206.0,188.1 217.9,190.3 229.8,191.9 241.7,193.3 253.6,194.7 261.0,195.4 272.9,196.6 284.8,197.5 296.7,198.7 316.0,199.3 339.4,200.7 369.5,202.3"/>
<polyline fill="none" stroke="#000" stroke-width="1.65" stroke-linejoin="round" points="40.0,175.8 42.2,176.0 52.9,177.8 64.8,180.2 76.7,182.3 88.6,184.4 96.0,185.7 107.9,187.3 119.8,189.1 131.7,190.9 143.6,192.3 151.0,193.3 162.9,194.7 174.8,195.9 186.7,196.9 198.6,197.8 206.0,198.1 217.9,198.7 240.0,199.8 261.0,201.2 284.8,202.6 316.0,203.6 339.4,204.3 369.5,205.5"/>
<polyline fill="none" stroke="#000" stroke-width="1.65" stroke-linejoin="round" points="40.0,194.2 42.2,194.3 52.9,195.1 64.8,196.3 76.7,197.2 88.6,198.3 96.0,199.1 107.9,199.8 119.8,200.7 131.7,201.6 143.6,202.5 151.0,202.8 162.9,203.4 174.8,204.0 186.7,204.6 198.6,205.2 206.0,205.4 217.9,205.9 261.0,207.0 316.0,207.5 369.5,208.0"/>
<line x1="186.5" y1="209.8" x2="186.5" y2="126.3" stroke="#f00" stroke-width="1.05" stroke-dasharray="3.8 2.2"/>
<line x1="215.3" y1="209.8" x2="215.3" y2="126.3" stroke="#f00" stroke-width="1.05" stroke-dasharray="3.8 2.2"/>
<line x1="200.9" y1="209.8" x2="200.9" y2="126.3" stroke="#f00" stroke-width="2.3"/>
</g>
<g clip-path="url(#cp2)">
<rect x="41.6" y="235.0" width="326.8" height="1.05" fill="url(#g168)"/>
<rect x="41.6" y="236.0" width="326.8" height="1.05" fill="url(#g169)"/>
<rect x="41.6" y="237.0" width="326.8" height="1.05" fill="url(#g170)"/>
<rect x="41.6" y="238.0" width="326.8" height="1.05" fill="url(#g171)"/>
<rect x="41.6" y="239.0" width="326.8" height="1.05" fill="url(#g172)"/>
<rect x="41.6" y="240.0" width="326.8" height="1.05" fill="url(#g173)"/>
<rect x="41.6" y="241.0" width="326.8" height="1.05" fill="url(#g174)"/>
<rect x="41.6" y="242.0" width="326.8" height="1.05" fill="url(#g175)"/>
<rect x="41.6" y="243.0" width="326.8" height="1.05" fill="url(#g176)"/>
<rect x="41.6" y="244.0" width="326.8" height="1.05" fill="url(#g177)"/>
<rect x="41.6" y="245.0" width="326.8" height="1.05" fill="url(#g178)"/>
<rect x="41.6" y="246.0" width="326.8" height="1.05" fill="url(#g179)"/>
<rect x="41.6" y="247.0" width="326.8" height="1.05" fill="url(#g180)"/>
<rect x="41.6" y="248.0" width="326.8" height="1.05" fill="url(#g181)"/>
<rect x="41.6" y="249.0" width="326.8" height="1.05" fill="url(#g182)"/>
<rect x="41.6" y="250.0" width="326.8" height="1.05" fill="url(#g183)"/>
<rect x="41.6" y="251.0" width="326.8" height="1.05" fill="url(#g184)"/>
<rect x="41.6" y="252.0" width="326.8" height="1.05" fill="url(#g185)"/>
<rect x="41.6" y="253.0" width="326.8" height="1.05" fill="url(#g186)"/>
<rect x="41.6" y="254.0" width="326.8" height="1.05" fill="url(#g187)"/>
<rect x="41.6" y="255.0" width="326.8" height="1.05" fill="url(#g188)"/>
<rect x="41.6" y="256.0" width="326.8" height="1.05" fill="url(#g189)"/>
<rect x="41.6" y="257.0" width="326.8" height="1.05" fill="url(#g190)"/>
<rect x="41.6" y="258.0" width="326.8" height="1.05" fill="url(#g191)"/>
<rect x="41.6" y="259.0" width="326.8" height="1.05" fill="url(#g192)"/>
<rect x="41.6" y="260.0" width="326.8" height="1.05" fill="url(#g193)"/>
<rect x="41.6" y="261.0" width="326.8" height="1.05" fill="url(#g194)"/>
<rect x="41.6" y="262.0" width="326.8" height="1.05" fill="url(#g195)"/>
<rect x="41.6" y="263.0" width="326.8" height="1.05" fill="url(#g196)"/>
<rect x="41.6" y="264.0" width="326.8" height="1.05" fill="url(#g197)"/>
<rect x="41.6" y="265.0" width="326.8" height="1.05" fill="url(#g198)"/>
<rect x="41.6" y="266.0" width="326.8" height="1.05" fill="url(#g199)"/>
<rect x="41.6" y="267.0" width="326.8" height="1.05" fill="url(#g200)"/>
<rect x="41.6" y="268.0" width="326.8" height="1.05" fill="url(#g201)"/>
<rect x="41.6" y="269.0" width="326.8" height="1.05" fill="url(#g202)"/>
<rect x="41.6" y="270.0" width="326.8" height="1.05" fill="url(#g203)"/>
<rect x="41.6" y="271.0" width="326.8" height="1.05" fill="url(#g204)"/>
<rect x="41.6" y="272.0" width="326.8" height="1.05" fill="url(#g205)"/>
<rect x="41.6" y="273.0" width="326.8" height="1.05" fill="url(#g206)"/>
<rect x="41.6" y="274.0" width="326.8" height="1.05" fill="url(#g207)"/>
<rect x="41.6" y="275.0" width="326.8" height="1.05" fill="url(#g208)"/>
<rect x="41.6" y="276.0" width="326.8" height="1.05" fill="url(#g209)"/>
<rect x="41.6" y="277.0" width="326.8" height="1.05" fill="url(#g210)"/>
<rect x="41.6" y="278.0" width="326.8" height="1.05" fill="url(#g211)"/>
<rect x="41.6" y="279.0" width="326.8" height="1.05" fill="url(#g212)"/>
<rect x="41.6" y="280.0" width="326.8" height="1.05" fill="url(#g213)"/>
<rect x="41.6" y="281.0" width="326.8" height="1.05" fill="url(#g214)"/>
<rect x="41.6" y="282.0" width="326.8" height="1.05" fill="url(#g215)"/>
<rect x="41.6" y="283.0" width="326.8" height="1.05" fill="url(#g216)"/>
<rect x="41.6" y="284.0" width="326.8" height="1.05" fill="url(#g217)"/>
<rect x="41.6" y="285.0" width="326.8" height="1.05" fill="url(#g218)"/>
<rect x="41.6" y="286.0" width="326.8" height="1.05" fill="url(#g219)"/>
<rect x="41.6" y="287.0" width="326.8" height="1.05" fill="url(#g220)"/>
<rect x="41.6" y="288.0" width="326.8" height="1.05" fill="url(#g221)"/>
<rect x="41.6" y="289.0" width="326.8" height="1.05" fill="url(#g222)"/>
<rect x="41.6" y="290.0" width="326.8" height="1.05" fill="url(#g223)"/>
<rect x="41.6" y="291.0" width="326.8" height="1.05" fill="url(#g224)"/>
<rect x="41.6" y="292.0" width="326.8" height="1.05" fill="url(#g225)"/>
<rect x="41.6" y="293.0" width="326.8" height="1.05" fill="url(#g226)"/>
<rect x="41.6" y="294.0" width="326.8" height="1.05" fill="url(#g227)"/>
<rect x="41.6" y="295.0" width="326.8" height="1.05" fill="url(#g228)"/>
<rect x="41.6" y="296.0" width="326.8" height="1.05" fill="url(#g229)"/>
<rect x="41.6" y="297.0" width="326.8" height="1.05" fill="url(#g230)"/>
<rect x="41.6" y="298.0" width="326.8" height="1.05" fill="url(#g231)"/>
<rect x="41.6" y="299.0" width="326.8" height="1.05" fill="url(#g232)"/>
<rect x="41.6" y="300.0" width="326.8" height="1.05" fill="url(#g233)"/>
<rect x="41.6" y="301.0" width="326.8" height="1.05" fill="url(#g234)"/>
<rect x="41.6" y="302.0" width="326.8" height="1.05" fill="url(#g235)"/>
<rect x="41.6" y="303.0" width="326.8" height="1.05" fill="url(#g236)"/>
<rect x="41.6" y="304.0" width="326.8" height="1.05" fill="url(#g237)"/>
<rect x="41.6" y="305.0" width="326.8" height="1.05" fill="url(#g238)"/>
<rect x="41.6" y="306.0" width="326.8" height="1.05" fill="url(#g239)"/>
<rect x="41.6" y="307.0" width="326.8" height="1.05" fill="url(#g240)"/>
<rect x="41.6" y="308.0" width="326.8" height="1.05" fill="url(#g241)"/>
<rect x="41.6" y="309.0" width="326.8" height="1.05" fill="url(#g242)"/>
<rect x="41.6" y="310.0" width="326.8" height="1.05" fill="url(#g243)"/>
<rect x="41.6" y="311.0" width="326.8" height="1.05" fill="url(#g244)"/>
<rect x="41.6" y="312.0" width="326.8" height="1.05" fill="url(#g245)"/>
<rect x="41.6" y="313.0" width="326.8" height="1.05" fill="url(#g246)"/>
<rect x="41.6" y="314.0" width="326.8" height="1.05" fill="url(#g247)"/>
<rect x="41.6" y="315.0" width="326.8" height="1.05" fill="url(#g248)"/>
<rect x="41.6" y="316.0" width="326.8" height="1.05" fill="url(#g249)"/>
<rect x="41.6" y="317.0" width="326.8" height="1.05" fill="url(#g250)"/>
<rect x="41.6" y="318.0" width="326.8" height="1.05" fill="url(#g251)"/>
<polyline fill="none" stroke="#000" stroke-width="1.65" stroke-linejoin="round" points="96.9,235.7 97.0,235.9 97.2,238.9 107.9,242.4 115.0,245.4 116.8,256.1 125.8,259.1 135.3,261.7 136.5,268.6 143.6,270.4 144.8,273.4 151.0,275.8 162.9,278.4 165.3,283.3 174.8,284.6 177.8,289.7 186.7,291.3 195.0,292.1 197.4,296.8 206.0,297.9 214.3,298.7 216.1,301.7 228.6,302.9 230.4,305.3 238.1,306.5 246.5,307.3 248.3,309.4 261.0,310.9 264.6,311.2 267.0,312.4 272.9,313.6 280.0,314.9 287.2,316.0 297.9,316.3 299.7,318.4 300.3,319.8"/>
<polyline fill="none" stroke="#000" stroke-width="1.65" stroke-linejoin="round" points="40.0,282.0 42.2,282.1 49.3,282.7 51.7,286.2 58.9,287.8 62.4,291.0 70.8,292.2 73.1,294.6 79.1,295.8 82.1,298.1 88.6,299.3 92.2,300.5 96.0,300.9 102.0,302.5 107.9,304.1 113.9,305.3 119.8,306.8 123.4,308.5 131.7,309.4 141.2,311.2 151.0,312.3 158.0,313.5 165.0,314.9 171.1,316.0 174.6,316.7 176.2,317.4 183.3,318.0 186.0,319.5"/>
<polyline fill="none" stroke="#000" stroke-width="1.65" stroke-linejoin="round" points="40.0,305.1 42.2,305.3 52.9,308.3 64.8,310.6 76.7,313.0 85.0,314.6 91.0,315.0 97.2,315.4 107.9,317.8 111.5,319.3 112.0,319.8"/>
<line x1="186.5" y1="318.8" x2="186.5" y2="235.5" stroke="#f00" stroke-width="1.05" stroke-dasharray="3.8 2.2"/>
<line x1="215.3" y1="318.8" x2="215.3" y2="235.5" stroke="#f00" stroke-width="1.05" stroke-dasharray="3.8 2.2"/>
<line x1="200.9" y1="318.8" x2="200.9" y2="235.5" stroke="#f00" stroke-width="2.3"/>
</g>
<rect x="41.60" y="17.30" width="326.80" height="83.55" fill="none" stroke="#000" stroke-width="0.85"/>
<line x1="73.50" y1="100.85" x2="73.50" y2="105.05" stroke="#000" stroke-width="0.85"/>
<line x1="137.25" y1="100.85" x2="137.25" y2="105.05" stroke="#000" stroke-width="0.85"/>
<line x1="201.00" y1="100.85" x2="201.00" y2="105.05" stroke="#000" stroke-width="0.85"/>
<line x1="264.75" y1="100.85" x2="264.75" y2="105.05" stroke="#000" stroke-width="0.85"/>
<line x1="328.50" y1="100.85" x2="328.50" y2="105.05" stroke="#000" stroke-width="0.85"/>
<rect x="41.60" y="126.30" width="326.80" height="83.55" fill="none" stroke="#000" stroke-width="0.85"/>
<line x1="73.50" y1="209.85" x2="73.50" y2="214.05" stroke="#000" stroke-width="0.85"/>
<line x1="137.25" y1="209.85" x2="137.25" y2="214.05" stroke="#000" stroke-width="0.85"/>
<line x1="201.00" y1="209.85" x2="201.00" y2="214.05" stroke="#000" stroke-width="0.85"/>
<line x1="264.75" y1="209.85" x2="264.75" y2="214.05" stroke="#000" stroke-width="0.85"/>
<line x1="328.50" y1="209.85" x2="328.50" y2="214.05" stroke="#000" stroke-width="0.85"/>
<rect x="41.60" y="235.50" width="326.80" height="83.30" fill="none" stroke="#000" stroke-width="0.85"/>
<line x1="73.50" y1="318.80" x2="73.50" y2="323.00" stroke="#000" stroke-width="0.85"/>
<line x1="137.25" y1="318.80" x2="137.25" y2="323.00" stroke="#000" stroke-width="0.85"/>
<line x1="201.00" y1="318.80" x2="201.00" y2="323.00" stroke="#000" stroke-width="0.85"/>
<line x1="264.75" y1="318.80" x2="264.75" y2="323.00" stroke="#000" stroke-width="0.85"/>
<line x1="328.50" y1="318.80" x2="328.50" y2="323.00" stroke="#000" stroke-width="0.85"/>
<text x="0" y="0" font-size="11.50" fill="#fff" transform="translate(208.00 22.20) rotate(-14.00) translate(-7.15 3.91) scale(0.9826 1)"><tspan>1</tspan><tspan font-style="italic">σ</tspan></text>
<text x="0" y="0" font-size="11.50" fill="#fff" transform="translate(135.80 35.60) rotate(15.00) translate(-7.18 3.97) scale(1.0069 1)"><tspan>2</tspan><tspan font-style="italic">σ</tspan></text>
<text x="0" y="0" font-size="11.50" fill="#fff" transform="translate(217.10 81.70) rotate(5.00) translate(-7.49 3.91) scale(1.0586 1)"><tspan>5</tspan><tspan font-style="italic">σ</tspan></text>
<text x="0" y="0" font-size="11.50" fill="#fff" transform="translate(284.50 94.20) rotate(3.00) translate(-10.90 3.97) scale(1.0414 1)"><tspan>10</tspan><tspan font-style="italic">σ</tspan></text>
<text x="0" y="0" font-size="11.50" fill="#fff" transform="translate(351.60 85.90) rotate(3.00) translate(-7.38 3.97) scale(1.0435 1)"><tspan>3</tspan><tspan font-style="italic">σ</tspan></text>
<text x="0" y="0" font-size="11.50" fill="#fff" transform="translate(236.80 199.00) rotate(3.00) translate(-7.27 3.91) scale(1.0284 1)"><tspan>5</tspan><tspan font-style="italic">σ</tspan></text>
<text x="0" y="0" font-size="11.50" fill="#fff" transform="translate(316.90 191.60) rotate(4.00) translate(-7.61 3.97) scale(1.0679 1)"><tspan>2</tspan><tspan font-style="italic">σ</tspan></text>
<text x="0" y="0" font-size="11.50" fill="#fff" transform="translate(350.60 200.50) rotate(3.00) translate(-7.38 3.97) scale(1.0435 1)"><tspan>3</tspan><tspan font-style="italic">σ</tspan></text>
<text x="0" y="0" font-size="11.50" fill="#fff" transform="translate(280.70 206.50) rotate(2.00) translate(-10.79 3.97) scale(1.0310 1)"><tspan>10</tspan><tspan font-style="italic">σ</tspan></text>
<text x="0" y="0" font-size="11.50" fill="#fff" transform="translate(91.80 313.30) rotate(5.00) translate(-7.49 3.97) scale(1.0586 1)"><tspan>3</tspan><tspan font-style="italic">σ</tspan></text>
<text x="0" y="0" font-size="11.50" fill="#fff" transform="translate(164.80 313.30) rotate(5.00) translate(-7.67 3.97) scale(1.0755 1)"><tspan>2</tspan><tspan font-style="italic">σ</tspan></text>
<text x="0" y="0" font-size="11.50" fill="#fff" transform="translate(281.00 312.30) rotate(4.00) translate(-7.54 3.91) scale(1.0372 1)"><tspan>1</tspan><tspan font-style="italic">σ</tspan></text>
<line x1="37.40" y1="34.45" x2="41.60" y2="34.45" stroke="#000" stroke-width="0.85"/>
<text x="0" y="0" font-size="11.45" fill="#000" transform="translate(15.69 38.50) scale(1.1116 1)"><tspan>0.4</tspan></text>
<line x1="37.40" y1="68.50" x2="41.60" y2="68.50" stroke="#000" stroke-width="0.85"/>
<text x="0" y="0" font-size="11.45" fill="#000" transform="translate(15.68 72.55) scale(1.1287 1)"><tspan>0.2</tspan></text>
<line x1="37.40" y1="126.10" x2="41.60" y2="126.10" stroke="#000" stroke-width="0.85"/>
<text x="0" y="0" font-size="11.45" fill="#000" transform="translate(15.69 130.15) scale(1.1200 1)"><tspan>0.3</tspan></text>
<line x1="37.40" y1="154.80" x2="41.60" y2="154.80" stroke="#000" stroke-width="0.85"/>
<text x="0" y="0" font-size="11.45" fill="#000" transform="translate(15.68 158.85) scale(1.1287 1)"><tspan>0.2</tspan></text>
<line x1="37.40" y1="183.65" x2="41.60" y2="183.65" stroke="#000" stroke-width="0.85"/>
<text x="0" y="0" font-size="11.45" fill="#000" transform="translate(15.69 187.70) scale(1.1243 1)"><tspan>0.1</tspan></text>
<line x1="37.40" y1="255.80" x2="41.60" y2="255.80" stroke="#000" stroke-width="0.85"/>
<text x="0" y="0" font-size="11.45" fill="#000" transform="translate(8.59 259.85) scale(1.1132 1)"><tspan>0.04</tspan></text>
<line x1="37.40" y1="298.10" x2="41.60" y2="298.10" stroke="#000" stroke-width="0.85"/>
<text x="0" y="0" font-size="11.45" fill="#000" transform="translate(8.58 302.15) scale(1.1252 1)"><tspan>0.02</tspan></text>
<text x="0" y="0" font-size="11.45" fill="#000" transform="translate(60.74 335.20) scale(1.1535 1)"><tspan>21.6</tspan></text>
<text x="0" y="0" font-size="11.45" fill="#000" transform="translate(124.45 335.20) scale(1.1316 1)"><tspan>22.0</tspan></text>
<text x="0" y="0" font-size="11.45" fill="#000" transform="translate(188.46 335.20) scale(1.1098 1)"><tspan>22.4</tspan></text>
<text x="0" y="0" font-size="11.45" fill="#000" transform="translate(252.05 335.20) scale(1.1347 1)"><tspan>22.8</tspan></text>
<text x="0" y="0" font-size="11.45" fill="#000" transform="translate(315.75 335.20) scale(1.1408 1)"><tspan>23.2</tspan></text>
<text x="0" y="0" font-size="11.90" fill="#000" transform="translate(129.60 350.60) scale(1.0763 1)"><tspan>Absolute Magnitude (mag)</tspan></text>
<text x="0" y="0" font-size="11.90" transform="translate(9.1 217.70) rotate(-90) scale(1.0723 1) translate(-0.60 0)">Geometric Albedo</text>
<text x="0" y="0" font-size="11.90" transform="translate(468.9 254.80) rotate(-90) scale(1.0791 1) translate(-0.95 0)">Predicted CH2 flux density (μjy)</text>
<text x="0" y="0" font-size="14.60" fill="#000" transform="translate(182.05 10.30) scale(1.1485 1)"><tspan font-style="italic">η</tspan></text>
<text x="0" y="0" font-size="14.60" fill="#000" style="stroke-width:0" transform="translate(192.68 10.90) scale(1.2569 1)"><tspan>=</tspan></text>
<text x="0" y="0" font-size="14.60" fill="#000" transform="translate(206.38 10.30) scale(1.0666 1)"><tspan>0.8</tspan></text>
<text x="0" y="0" font-size="14.60" fill="#000" transform="translate(182.05 119.30) scale(1.1485 1)"><tspan font-style="italic">η</tspan></text>
<text x="0" y="0" font-size="14.60" fill="#000" style="stroke-width:0" transform="translate(192.68 119.90) scale(1.2569 1)"><tspan>=</tspan></text>
<text x="0" y="0" font-size="14.60" fill="#000" transform="translate(206.46 119.30) scale(1.0409 1)"><tspan>1.1</tspan></text>
<text x="0" y="0" font-size="14.60" fill="#000" transform="translate(182.05 228.50) scale(1.1485 1)"><tspan font-style="italic">η</tspan></text>
<text x="0" y="0" font-size="14.60" fill="#000" style="stroke-width:0" transform="translate(192.68 229.10) scale(1.2569 1)"><tspan>=</tspan></text>
<text x="0" y="0" font-size="14.60" fill="#000" transform="translate(206.22 228.50) scale(1.0748 1)"><tspan>2.5</tspan></text>
<rect x="394.30" y="28.70" width="26.30" height="274.50" fill="url(#cb)"/>
<rect x="394.30" y="28.70" width="26.30" height="274.50" fill="none" stroke="#000" stroke-width="0.85"/>
<line x1="420.60" y1="303.20" x2="424.60" y2="303.20" stroke="#000" stroke-width="0.85"/>
<line x1="420.60" y1="278.17" x2="424.60" y2="278.17" stroke="#000" stroke-width="0.7"/>
<line x1="420.60" y1="263.52" x2="424.60" y2="263.52" stroke="#000" stroke-width="0.7"/>
<line x1="420.60" y1="253.14" x2="424.60" y2="253.14" stroke="#000" stroke-width="0.7"/>
<line x1="420.60" y1="245.08" x2="424.60" y2="245.08" stroke="#000" stroke-width="0.7"/>
<line x1="420.60" y1="238.49" x2="424.60" y2="238.49" stroke="#000" stroke-width="0.7"/>
<line x1="420.60" y1="232.93" x2="424.60" y2="232.93" stroke="#000" stroke-width="0.7"/>
<line x1="420.60" y1="228.10" x2="424.60" y2="228.10" stroke="#000" stroke-width="0.7"/>
<line x1="420.60" y1="223.85" x2="424.60" y2="223.85" stroke="#000" stroke-width="0.7"/>
<text x="0" y="0" font-size="12.00" fill="#000" transform="translate(428.71 308.00) scale(0.9917 1)"><tspan>10</tspan></text>
<text x="0" y="0" font-size="8.00" fill="#000" transform="translate(443.71 303.70) scale(1.2371 1)"><tspan>−</tspan></text>
<text x="0" y="0" font-size="8.00" fill="#000" transform="translate(450.51 303.20) scale(0.7143 1)"><tspan>2</tspan></text>
<line x1="420.60" y1="220.04" x2="424.60" y2="220.04" stroke="#000" stroke-width="0.85"/>
<line x1="420.60" y1="195.01" x2="424.60" y2="195.01" stroke="#000" stroke-width="0.7"/>
<line x1="420.60" y1="180.37" x2="424.60" y2="180.37" stroke="#000" stroke-width="0.7"/>
<line x1="420.60" y1="169.98" x2="424.60" y2="169.98" stroke="#000" stroke-width="0.7"/>
<line x1="420.60" y1="161.92" x2="424.60" y2="161.92" stroke="#000" stroke-width="0.7"/>
<line x1="420.60" y1="155.34" x2="424.60" y2="155.34" stroke="#000" stroke-width="0.7"/>
<line x1="420.60" y1="149.77" x2="424.60" y2="149.77" stroke="#000" stroke-width="0.7"/>
<line x1="420.60" y1="144.95" x2="424.60" y2="144.95" stroke="#000" stroke-width="0.7"/>
<line x1="420.60" y1="140.69" x2="424.60" y2="140.69" stroke="#000" stroke-width="0.7"/>
<text x="0" y="0" font-size="12.00" fill="#000" transform="translate(428.71 224.84) scale(0.9917 1)"><tspan>10</tspan></text>
<text x="0" y="0" font-size="8.00" fill="#000" transform="translate(443.71 220.54) scale(1.2371 1)"><tspan>−</tspan></text>
<text x="0" y="0" font-size="8.00" fill="#000" transform="translate(450.35 220.04) scale(0.7471 1)"><tspan>1</tspan></text>
<line x1="420.60" y1="136.89" x2="424.60" y2="136.89" stroke="#000" stroke-width="0.85"/>
<line x1="420.60" y1="111.86" x2="424.60" y2="111.86" stroke="#000" stroke-width="0.7"/>
<line x1="420.60" y1="97.21" x2="424.60" y2="97.21" stroke="#000" stroke-width="0.7"/>
<line x1="420.60" y1="86.82" x2="424.60" y2="86.82" stroke="#000" stroke-width="0.7"/>
<line x1="420.60" y1="78.76" x2="424.60" y2="78.76" stroke="#000" stroke-width="0.7"/>
<line x1="420.60" y1="72.18" x2="424.60" y2="72.18" stroke="#000" stroke-width="0.7"/>
<line x1="420.60" y1="66.61" x2="424.60" y2="66.61" stroke="#000" stroke-width="0.7"/>
<line x1="420.60" y1="61.79" x2="424.60" y2="61.79" stroke="#000" stroke-width="0.7"/>
<line x1="420.60" y1="57.54" x2="424.60" y2="57.54" stroke="#000" stroke-width="0.7"/>
<text x="0" y="0" font-size="12.00" fill="#000" transform="translate(428.71 141.69) scale(0.9917 1)"><tspan>10</tspan></text>
<text x="0" y="0" font-size="8.00" fill="#000" transform="translate(443.83 136.89) scale(0.8594 1)"><tspan>0</tspan></text>
<line x1="420.60" y1="53.73" x2="424.60" y2="53.73" stroke="#000" stroke-width="0.85"/>
<line x1="420.60" y1="28.70" x2="424.60" y2="28.70" stroke="#000" stroke-width="0.7"/>
<text x="0" y="0" font-size="12.00" fill="#000" transform="translate(428.71 58.53) scale(0.9917 1)"><tspan>10</tspan></text>
<text x="0" y="0" font-size="8.00" fill="#000" transform="translate(443.97 53.73) scale(0.7184 1)"><tspan>1</tspan></text>
</svg></body></html>
